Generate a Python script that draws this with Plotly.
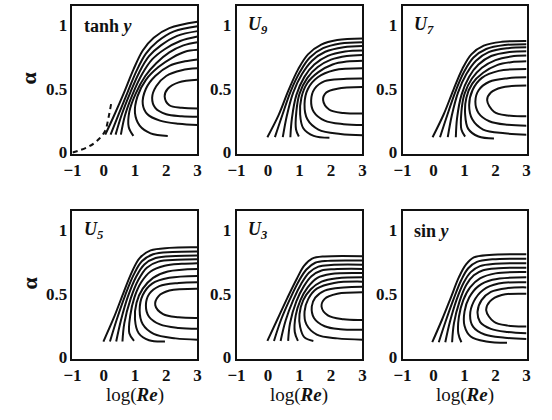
import plotly.graph_objects as go

# ---------------- data ----------------
X_TICKS = [-1, 0, 1, 2, 3]
Y_TICKS = [0, 0.5, 1]
Y_TICK_TEXT = ["0", "0.5", "1"]

PANEL_LABELS = ["tanh <i>y</i>", "<i>U</i><sub><i>9</i></sub>", "<i>U</i><sub><i>7</i></sub>",
                "<i>U</i><sub><i>5</i></sub>", "<i>U</i><sub><i>3</i></sub>", "sin <i>y</i>"]

TANH_DASH_X = [-1.0, -0.53, -0.22, 0.04, 0.15, 0.25]
TANH_DASH_Y = [0.0, 0.04, 0.09, 0.167, 0.27, 0.40]

TANH_CURVES = [
    [(0.05, 0.14), (0.35, 0.30), (0.65, 0.47), (0.95, 0.65), (1.25, 0.80), (1.6, 0.90), (2.1, 0.975), (3, 1.025)],
    [(0.22, 0.14), (0.48, 0.30), (0.76, 0.47), (1.05, 0.64), (1.35, 0.775), (1.72, 0.87), (2.25, 0.95), (3, 0.99)],
    [(0.38, 0.14), (0.58, 0.30), (0.85, 0.47), (1.14, 0.63), (1.45, 0.755), (1.83, 0.84), (2.35, 0.915), (3, 0.952)],
    [(0.55, 0.14), (0.68, 0.29), (0.93, 0.46), (1.23, 0.615), (1.55, 0.73), (1.95, 0.81), (2.45, 0.875), (3, 0.91)],
    [(0.95, 0.13), (0.80, 0.20), (0.82, 0.32), (1.02, 0.46), (1.33, 0.60), (1.68, 0.70), (2.1, 0.785), (2.55, 0.84), (3, 0.865)],
    [(2.05, 0.13), (1.5, 0.15), (1.15, 0.21), (1.0, 0.31), (1.08, 0.44), (1.35, 0.57), (1.75, 0.67), (2.2, 0.745), (2.6, 0.79), (3, 0.805)],
    [(3, 0.215), (2.4, 0.225), (1.8, 0.25), (1.4, 0.30), (1.25, 0.38), (1.35, 0.50), (1.65, 0.60), (2.1, 0.68), (2.6, 0.715), (3, 0.73)],
    [(3, 0.28), (2.5, 0.285), (2.0, 0.30), (1.65, 0.35), (1.55, 0.43), (1.68, 0.52), (2.0, 0.60), (2.5, 0.645), (3, 0.66)],
    [(3, 0.345), (2.5, 0.35), (2.1, 0.37), (1.95, 0.44), (2.05, 0.50), (2.4, 0.55), (3, 0.57)],
]

U9_CURVES = [
    [(-0.02, 0.12), (0.34, 0.295), (0.65, 0.487), (0.96, 0.654), (1.27, 0.77), (1.69, 0.846), (2.2, 0.882), (3, 0.895)],
    [(0.22, 0.12), (0.45, 0.29), (0.72, 0.48), (1.02, 0.635), (1.33, 0.745), (1.75, 0.818), (2.3, 0.855), (3, 0.865)],
    [(0.47, 0.12), (0.60, 0.29), (0.80, 0.47), (1.08, 0.615), (1.4, 0.72), (1.82, 0.79), (2.4, 0.826), (3, 0.835)],
    [(0.71, 0.12), (0.76, 0.27), (0.90, 0.45), (1.16, 0.595), (1.47, 0.69), (1.9, 0.758), (2.45, 0.792), (3, 0.80)],
    [(0.98, 0.125), (0.89, 0.18), (0.90, 0.32), (1.0, 0.46), (1.25, 0.585), (1.58, 0.67), (2.0, 0.728), (2.5, 0.757), (3, 0.765)],
    [(1.95, 0.115), (1.45, 0.13), (1.12, 0.19), (1.02, 0.30), (1.06, 0.43), (1.25, 0.545), (1.6, 0.63), (2.05, 0.69), (2.5, 0.713), (3, 0.72)],
    [(3, 0.135), (2.3, 0.145), (1.6, 0.18), (1.25, 0.26), (1.16, 0.38), (1.27, 0.50), (1.58, 0.59), (2.1, 0.645), (3, 0.66)],
    [(3, 0.215), (2.4, 0.222), (1.8, 0.25), (1.45, 0.32), (1.37, 0.41), (1.48, 0.50), (1.8, 0.56), (2.4, 0.577), (3, 0.58)],
    [(3, 0.305), (2.4, 0.31), (1.95, 0.335), (1.75, 0.41), (1.85, 0.47), (2.2, 0.50), (3, 0.513)],
]

U7_CURVES = [
    [(-0.03, 0.12), (0.33, 0.30), (0.64, 0.49), (0.93, 0.655), (1.22, 0.77), (1.62, 0.838), (2.2, 0.868), (3, 0.875)],
    [(0.21, 0.12), (0.44, 0.29), (0.71, 0.48), (0.99, 0.635), (1.29, 0.745), (1.7, 0.812), (2.3, 0.843), (3, 0.85)],
    [(0.46, 0.12), (0.59, 0.29), (0.79, 0.47), (1.06, 0.615), (1.37, 0.72), (1.78, 0.787), (2.4, 0.818), (3, 0.825)],
    [(0.72, 0.12), (0.76, 0.27), (0.90, 0.45), (1.15, 0.595), (1.45, 0.69), (1.86, 0.757), (2.45, 0.789), (3, 0.795)],
    [(1.02, 0.125), (0.90, 0.18), (0.90, 0.32), (1.0, 0.46), (1.24, 0.58), (1.56, 0.665), (2.0, 0.725), (2.5, 0.753), (3, 0.76)],
    [(1.95, 0.11), (1.45, 0.125), (1.12, 0.185), (1.02, 0.30), (1.06, 0.43), (1.25, 0.54), (1.6, 0.625), (2.05, 0.685), (2.5, 0.708), (3, 0.715)],
    [(3, 0.14), (2.3, 0.15), (1.6, 0.18), (1.25, 0.26), (1.15, 0.37), (1.26, 0.49), (1.56, 0.585), (2.1, 0.64), (3, 0.655)],
    [(3, 0.21), (2.4, 0.217), (1.8, 0.245), (1.45, 0.31), (1.35, 0.40), (1.46, 0.49), (1.8, 0.555), (2.4, 0.583), (3, 0.59)],
    [(3, 0.285), (2.4, 0.29), (1.95, 0.32), (1.73, 0.41), (1.85, 0.47), (2.2, 0.51), (3, 0.525)],
]

U5_CURVES = [
    [(-0.01, 0.125), (0.32, 0.31), (0.62, 0.50), (0.90, 0.67), (1.15, 0.78), (1.5, 0.84), (2.1, 0.86), (3, 0.864)],
    [(0.20, 0.125), (0.42, 0.30), (0.69, 0.49), (0.96, 0.65), (1.22, 0.755), (1.58, 0.81), (2.2, 0.828), (3, 0.832)],
    [(0.40, 0.125), (0.55, 0.29), (0.77, 0.475), (1.03, 0.63), (1.3, 0.73), (1.66, 0.78), (2.3, 0.796), (3, 0.80)],
    [(0.60, 0.125), (0.66, 0.27), (0.86, 0.46), (1.11, 0.61), (1.38, 0.705), (1.75, 0.752), (2.35, 0.766), (3, 0.77)],
    [(0.97, 0.13), (0.82, 0.19), (0.85, 0.33), (0.98, 0.47), (1.2, 0.59), (1.5, 0.675), (1.95, 0.72), (2.5, 0.735), (3, 0.74)],
    [(1.96, 0.125), (1.45, 0.135), (1.12, 0.19), (1.0, 0.30), (1.05, 0.43), (1.25, 0.54), (1.58, 0.625), (2.05, 0.675), (3, 0.695)],
    [(3, 0.14), (2.3, 0.15), (1.6, 0.185), (1.25, 0.26), (1.15, 0.37), (1.25, 0.49), (1.55, 0.58), (2.1, 0.625), (3, 0.64)],
    [(3, 0.225), (2.4, 0.232), (1.8, 0.26), (1.45, 0.32), (1.35, 0.41), (1.46, 0.50), (1.78, 0.56), (2.4, 0.585), (3, 0.59)],
    [(3, 0.31), (2.4, 0.315), (1.9, 0.34), (1.65, 0.41), (1.75, 0.48), (2.1, 0.525), (3, 0.54)],
]

U3_CURVES = [
    [(-0.02, 0.13), (0.30, 0.30), (0.62, 0.47), (0.92, 0.62), (1.15, 0.72), (1.4, 0.775), (1.8, 0.793), (3, 0.795)],
    [(0.19, 0.13), (0.42, 0.30), (0.70, 0.46), (0.98, 0.60), (1.22, 0.69), (1.5, 0.743), (1.9, 0.758), (3, 0.76)],
    [(0.40, 0.13), (0.56, 0.29), (0.80, 0.45), (1.06, 0.58), (1.3, 0.665), (1.6, 0.713), (2.0, 0.726), (3, 0.728)],
    [(0.64, 0.13), (0.70, 0.27), (0.90, 0.44), (1.14, 0.56), (1.38, 0.638), (1.7, 0.682), (2.1, 0.693), (3, 0.695)],
    [(0.95, 0.13), (0.85, 0.20), (0.88, 0.33), (1.03, 0.45), (1.26, 0.55), (1.57, 0.625), (2.0, 0.655), (3, 0.662)],
    [(1.44, 0.13), (1.15, 0.16), (1.02, 0.24), (1.0, 0.34), (1.12, 0.45), (1.36, 0.535), (1.7, 0.595), (2.2, 0.622), (3, 0.63)],
    [(3, 0.14), (2.2, 0.15), (1.55, 0.18), (1.22, 0.26), (1.16, 0.36), (1.28, 0.46), (1.55, 0.54), (2.1, 0.585), (3, 0.595)],
    [(3, 0.218), (2.3, 0.222), (1.8, 0.245), (1.46, 0.31), (1.39, 0.40), (1.5, 0.47), (1.8, 0.525), (2.4, 0.55), (3, 0.555)],
    [(3, 0.295), (2.4, 0.30), (1.9, 0.33), (1.7, 0.40), (1.8, 0.46), (2.2, 0.50), (3, 0.512)],
]

SIN_CURVES = [
    [(-0.04, 0.12), (0.28, 0.30), (0.56, 0.47), (0.82, 0.63), (1.05, 0.73), (1.3, 0.785), (1.8, 0.805), (3, 0.81)],
    [(0.17, 0.12), (0.40, 0.29), (0.65, 0.46), (0.90, 0.61), (1.12, 0.70), (1.4, 0.75), (1.9, 0.77), (3, 0.775)],
    [(0.38, 0.12), (0.53, 0.28), (0.74, 0.45), (0.98, 0.59), (1.2, 0.67), (1.5, 0.717), (2.0, 0.735), (3, 0.74)],
    [(0.60, 0.12), (0.66, 0.27), (0.84, 0.44), (1.06, 0.57), (1.3, 0.645), (1.6, 0.685), (2.1, 0.70), (3, 0.705)],
    [(0.90, 0.12), (0.80, 0.19), (0.82, 0.32), (0.96, 0.45), (1.18, 0.55), (1.5, 0.62), (2.0, 0.66), (3, 0.67)],
    [(2.37, 0.115), (1.7, 0.125), (1.2, 0.165), (1.0, 0.25), (1.0, 0.36), (1.15, 0.47), (1.45, 0.56), (1.9, 0.61), (3, 0.63)],
    [(3, 0.145), (2.3, 0.155), (1.65, 0.18), (1.28, 0.24), (1.18, 0.33), (1.3, 0.44), (1.6, 0.53), (2.1, 0.58), (3, 0.59)],
    [(3, 0.19), (2.4, 0.20), (1.85, 0.225), (1.5, 0.28), (1.42, 0.36), (1.55, 0.45), (1.85, 0.515), (2.4, 0.545), (3, 0.55)],
    [(3, 0.244), (2.4, 0.25), (1.95, 0.28), (1.7, 0.37), (1.82, 0.44), (2.2, 0.49), (3, 0.50)],
]

PANEL_CURVES = [TANH_CURVES, U9_CURVES, U7_CURVES, U5_CURVES, U3_CURVES, SIN_CURVES]

# ---------------- layout geometry (pixels) ----------------
W, H = 552, 420
COLS = [(65, 193), (233, 362), (403, 530)]
ROWS = [(6, 157), (215, 366)]
SERIF = "Liberation Serif, Times New Roman, serif"
INK = "#111111"

fig = go.Figure()
layout = dict(
    width=W, height=H, margin=dict(l=0, r=0, t=0, b=0),
    paper_bgcolor="white", plot_bgcolor="white", showlegend=False,
    font=dict(family=SERIF, size=17, color=INK),
)

annotations = []
for k in range(6):
    r, c = divmod(k, 3)
    ax = "" if k == 0 else str(k + 1)
    x0, x1 = COLS[c]
    t0, t1 = ROWS[r]
    layout["xaxis" + ax] = dict(
        domain=[x0 / W, x1 / W], range=[-1, 3], tickvals=X_TICKS,
        showline=True, mirror=True, linecolor=INK, linewidth=1.5,
        ticks="", showgrid=False, zeroline=False, anchor="y" + ax,
        tickfont=dict(family=SERIF, size=17, color=INK, weight="bold"),
    )
    layout["yaxis" + ax] = dict(
        domain=[1 - t1 / H, 1 - t0 / H], range=[-0.012, 1.15], tickvals=Y_TICKS,
        ticktext=Y_TICK_TEXT, showline=True, mirror=True, linecolor=INK, linewidth=1.5,
        ticks="", showgrid=False, zeroline=False, anchor="x" + ax,
        tickfont=dict(family=SERIF, size=17, color=INK, weight="bold"),
    )
    for curve in PANEL_CURVES[k]:
        fig.add_trace(go.Scatter(
            x=[p[0] for p in curve], y=[p[1] for p in curve], mode="lines",
            line=dict(color=INK, width=2, shape="spline", smoothing=1.0),
            xaxis="x" + ax, yaxis="y" + ax, hoverinfo="skip",
        ))
    if k == 0:
        fig.add_trace(go.Scatter(
            x=TANH_DASH_X, y=TANH_DASH_Y, mode="lines",
            line=dict(color=INK, width=2, dash="5px,4px", shape="spline"),
            xaxis="x", yaxis="y", hoverinfo="skip",
        ))
    annotations.append(dict(
        text=PANEL_LABELS[k], xref="paper", yref="paper",
        x=(x0 + 10) / W, y=1 - (t0 + 20) / H, xanchor="left", yanchor="middle",
        showarrow=False, font=dict(family=SERIF, size=18, color=INK, weight="bold"),
    ))

for r in range(2):
    t0, t1 = ROWS[r]
    annotations.append(dict(
        text="α", xref="paper", yref="paper", x=20 / W, y=1 - ((t0 + t1) / 2 - 2) / H,
        textangle=-90, showarrow=False, xanchor="center", yanchor="middle",
        font=dict(family=SERIF, size=22, color=INK, weight="bold"),
    ))
for c in range(3):
    x0, x1 = COLS[c]
    annotations.append(dict(
        text="log(<b><i>Re</i></b>)", xref="paper", yref="paper",
        x=(x0 + x1) / 2 / W, y=1 - 403 / H, xanchor="center", yanchor="middle",
        showarrow=False, font=dict(family=SERIF, size=19, color=INK),
    ))

layout["annotations"] = annotations
fig.update_layout(**layout)
fig.write_html("out.html")
